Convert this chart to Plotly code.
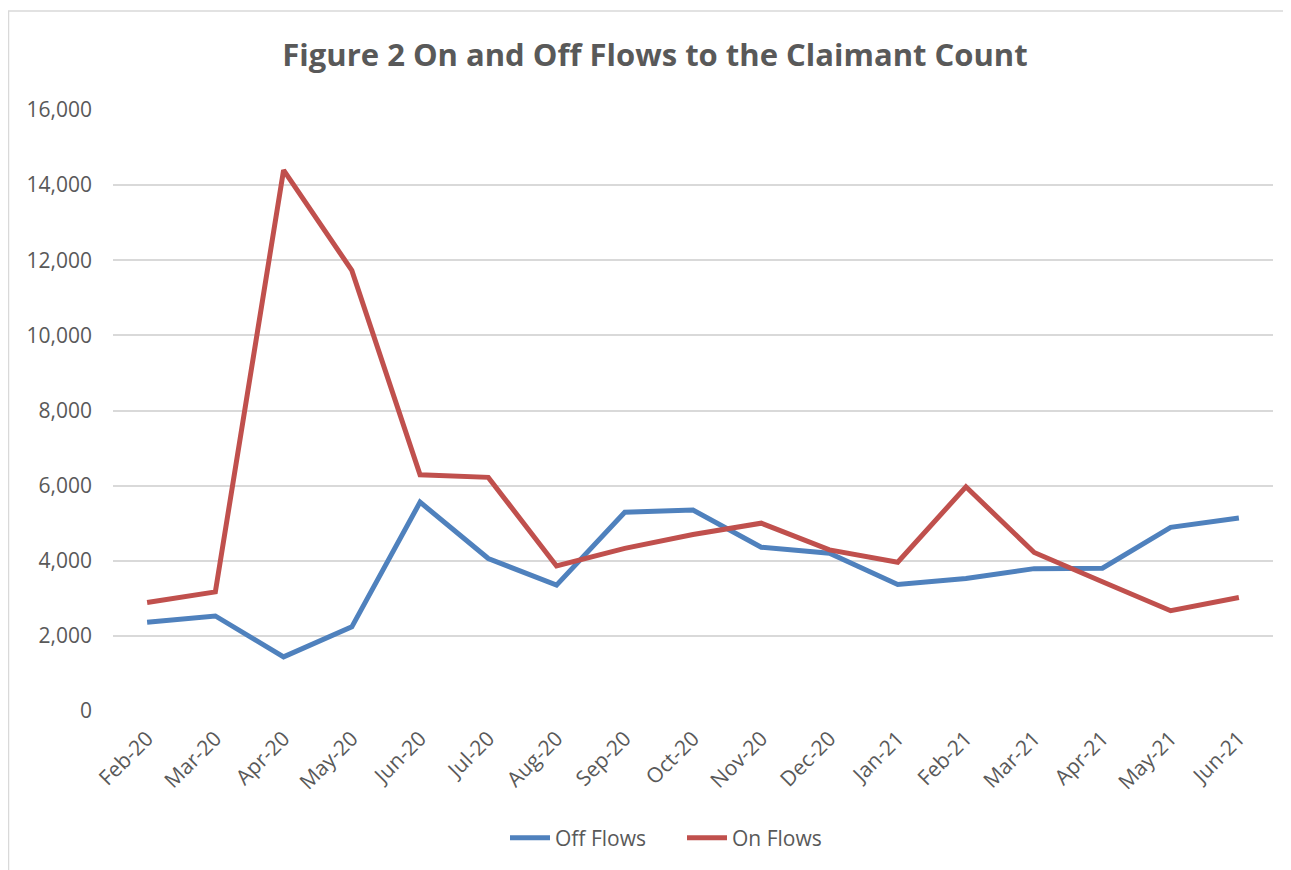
import plotly.graph_objects as go

months = ["Feb-20", "Mar-20", "Apr-20", "May-20", "Jun-20", "Jul-20", "Aug-20", "Sep-20",
          "Oct-20", "Nov-20", "Dec-20", "Jan-21", "Feb-21", "Mar-21", "Apr-21", "May-21", "Jun-21"]
off_flows = [2360, 2530, 1440, 2240, 5560, 4060, 3350, 5290, 5350, 4360, 4200, 3370, 3530, 3790, 3800, 4890, 5140]
on_flows = [2890, 3170, 14400, 11730, 6290, 6220, 3860, 4330, 4700, 5000, 4290, 3960, 5970, 4220, 3440, 2670, 3020]
y_ticks = [0, 2000, 4000, 6000, 8000, 10000, 12000, 14000, 16000]

W, H = 1291, 870
OFF = 8  # page body margin offset
L, R, T, B = 113 - OFF, W - (1273 - OFF), 110 - OFF, H - (711 - OFF)
pw, ph = W - L - R, H - T - B

font = "Open Sans"
grey = "#595959"

fig = go.Figure()
fig.add_trace(go.Scatter(x=months, y=off_flows, name="Off Flows", mode="lines",
                         line=dict(color="#4F81BD", width=5)))
fig.add_trace(go.Scatter(x=months, y=on_flows, name="On Flows", mode="lines",
                         line=dict(color="#C0504D", width=5)))

def px_x(px):
    return (px - OFF - L) / pw

def px_y(py):
    return (H - B - (py - OFF)) / ph

fig.update_layout(
    width=W, height=H,
    margin=dict(l=L, r=R, t=T, b=B, autoexpand=False),
    paper_bgcolor="white", plot_bgcolor="white",
    font=dict(family=font, color=grey, size=21),
    title=dict(text="<b>Figure 2 On and Off Flows to the Claimant Count</b>",
               x=(655 - OFF) / W, xref="container", xanchor="center",
               y=1 - (55 - OFF) / H, yanchor="middle",
               font=dict(family=font, size=31, color=grey)),
    xaxis=dict(type="category", range=[-0.5, len(months) - 0.5], tickangle=-45,
               showgrid=False, zeroline=False, showline=False, ticks="",
               tickfont=dict(size=21, color=grey), ticklabelstandoff=10),
    yaxis=dict(range=[0, 16000], tickvals=y_ticks, tickformat=",",
               showgrid=True, gridcolor="#D9D9D9", gridwidth=1.5, zeroline=False,
               showline=False, ticks="", tickfont=dict(size=21, color=grey),
               ticklabelstandoff=20),
    legend=dict(orientation="h", xref="container", x=(505 - OFF) / W, xanchor="left",
                y=px_y(838), yanchor="middle", entrywidth=122,
                font=dict(size=21, color=grey), itemwidth=40, traceorder="normal"),
    showlegend=True,
    shapes=[dict(type="rect", xref="paper", yref="paper",
                 x0=px_x(8.5), x1=px_x(1320), y0=px_y(900), y1=px_y(11),
                 line=dict(color="#D9D9D9", width=1.5), fillcolor="rgba(0,0,0,0)", layer="below")],
)

fig.write_html("out.html")
